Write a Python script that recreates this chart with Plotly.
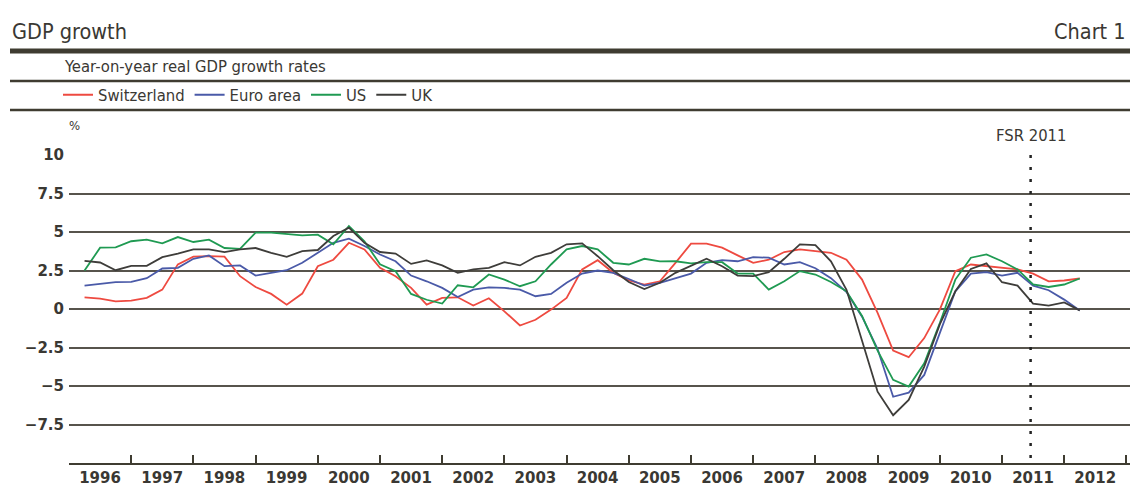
import plotly.graph_objects as go
import pandas as pd

# ---------------- data ----------------
quarters = pd.period_range("1996Q1", "2012Q1", freq="Q")

switzerland = [0.76, 0.67, 0.50, 0.54, 0.72, 1.26, 2.90, 3.40, 3.43, 3.40, 2.13, 1.43, 0.98, 0.28, 1.00, 2.78, 3.20, 4.30,
               3.87, 2.67, 2.13, 1.37, 0.28, 0.72, 0.76, 0.22, 0.70, -0.15, -1.07, -0.70, -0.04, 0.72, 2.57, 3.17, 2.35, 1.85,
               1.59, 1.80, 3.00, 4.24, 4.24, 3.98, 3.48, 3.00, 3.20, 3.70, 3.87, 3.76, 3.65, 3.20, 1.91, -0.25, -2.70, -3.13,
               -1.89, -0.04, 2.46, 2.89, 2.78, 2.67, 2.57, 2.30, 1.80, 1.85, 1.98]
euro_area = [1.52, 1.63, 1.74, 1.76, 2.00, 2.63, 2.67, 3.26, 3.48, 2.78, 2.83, 2.17, 2.35, 2.52, 3.00, 3.65, 4.30, 4.57,
             4.09, 3.54, 3.10, 2.17, 1.80, 1.37, 0.78, 1.26, 1.41, 1.37, 1.26, 0.83, 0.98, 1.70, 2.30, 2.50, 2.35, 1.95,
             1.52, 1.70, 2.02, 2.30, 3.00, 3.17, 3.10, 3.37, 3.33, 2.89, 3.04, 2.65, 2.00, 1.10, -0.50, -2.60, -5.70, -5.43,
             -4.28, -1.57, 1.15, 2.30, 2.39, 2.17, 2.35, 1.52, 1.22, 0.61, -0.09]
us = [2.50, 3.98, 4.00, 4.40, 4.50, 4.26, 4.67, 4.35, 4.50, 3.96, 3.90, 4.96, 4.96, 4.85, 4.78, 4.83, 4.20, 5.39,
      4.40, 2.90, 2.46, 0.98, 0.60, 0.35, 1.54, 1.41, 2.24, 1.91, 1.48, 1.80, 2.89, 3.87, 4.09, 3.87, 3.00, 2.89,
      3.26, 3.09, 3.10, 2.96, 3.04, 3.04, 2.30, 2.30, 1.26, 1.80, 2.46, 2.24, 1.75, 1.15, -0.45, -2.70, -4.60, -5.04,
      -3.52, -0.91, 1.91, 3.33, 3.54, 3.10, 2.57, 1.59, 1.43, 1.59, 1.98]
uk = [3.13, 3.02, 2.52, 2.80, 2.80, 3.37, 3.59, 3.87, 3.87, 3.70, 3.87, 3.96, 3.65, 3.39, 3.76, 3.83, 4.74, 5.28,
      4.30, 3.70, 3.60, 2.93, 3.15, 2.83, 2.35, 2.57, 2.67, 3.04, 2.83, 3.39, 3.65, 4.20, 4.26, 3.43, 2.52, 1.75,
      1.30, 1.70, 2.35, 2.78, 3.26, 2.78, 2.17, 2.13, 2.39, 3.26, 4.20, 4.15, 3.10, 1.25, -2.10, -5.37, -6.90, -5.90,
      -3.74, -1.00, 1.15, 2.60, 2.96, 1.74, 1.52, 0.35, 0.22, 0.43, -0.09]

series_names = ["Switzerland", "Euro area", "US", "UK"]
series_values = [switzerland, euro_area, us, uk]
series_colors = ["#ee4a40", "#4a5aa8", "#1f9a52", "#3e3d3a"]

year_ticks = list(range(1996, 2014))
year_labels = [str(y) for y in range(1996, 2013)] + [""]
y_ticks = [-7.5, -5, -2.5, 0, 2.5, 5, 7.5, 10]
y_labels = ["\u22127.5", "\u22125", "\u22122.5", "0", "2.5", "5", "7.5", "10"]
fsr_date = 2011.46

# quarter-end position on a numeric year axis
x_pos = [p.year + p.quarter * 0.25 for p in quarters]

# ---------------- layout geometry ----------------
W, H = 1130, 486
L, R, T, B = 69, 0, 155, 23
PW, PH = W - L - R, H - T - B

def px_x(px):
    return (px - L) / PW

def px_y(py):
    return (H - B - py) / PH

TXT = "#3a3833"
RULE = "#3f3c31"
GRID = "#57544c"
NARROW = "DejaVu Sans Condensed, sans-serif"
BOLD = "DejaVu Sans, sans-serif"

fig = go.Figure()
for name, vals, col in zip(series_names, series_values, series_colors):
    fig.add_trace(go.Scatter(x=x_pos, y=vals, name=name, mode="lines",
                             line=dict(color=col, width=1.8)))

fig.update_layout(
    width=W, height=H,
    margin=dict(l=L, r=R, t=T, b=B, autoexpand=False),
    paper_bgcolor="white", plot_bgcolor="white",
    showlegend=True,
    legend=dict(orientation="h", xref="container", yref="container",
                x=58 / W, xanchor="left", y=1 - 95 / H, yanchor="middle",
                font=dict(family=NARROW, size=16.5, color=TXT),
                bgcolor="rgba(0,0,0,0)", borderwidth=0, itemwidth=30),
    xaxis=dict(range=[1996, 1996 + PW / 62.2], tickvals=year_ticks, ticktext=year_labels,
               ticks="inside", ticklen=8, tickwidth=2, tickcolor=RULE,
               ticklabelshift=31, ticklabelstandoff=0,
               showline=True, linecolor=RULE, linewidth=2,
               showgrid=False, zeroline=False,
               tickfont=dict(family=BOLD, size=15, color=TXT, weight="bold")),
    yaxis=dict(range=[-10, 10], tickvals=y_ticks, ticktext=y_labels,
               showgrid=True, gridcolor=GRID, gridwidth=2,
               zeroline=False, showline=False, ticks="", ticklabelstandoff=4,
               tickfont=dict(family=BOLD, size=15, color=TXT, weight="bold")),
)

# header rules
for py, w in [(51, 5), (81, 2.5), (110, 2.5)]:
    fig.add_shape(type="line", xref="paper", yref="paper",
                  x0=px_x(10), x1=px_x(W), y0=px_y(py), y1=px_y(py),
                  line=dict(color=RULE, width=w))

# FSR 2011 marker
fig.add_shape(type="line", xref="x", yref="y", x0=fsr_date, x1=fsr_date, y0=10, y1=-10,
              line=dict(color="#222222", width=2.5, dash="3px,9px"))

fig.add_annotation(text="GDP growth", xref="paper", yref="paper", x=px_x(10), y=px_y(31),
                   xanchor="left", yanchor="middle", showarrow=False,
                   font=dict(family=NARROW, size=21.5, color=TXT))
fig.add_annotation(text="Chart 1", xref="paper", yref="paper", x=px_x(1128), y=px_y(31),
                   xanchor="right", yanchor="middle", showarrow=False,
                   font=dict(family=NARROW, size=21.5, color=TXT))
fig.add_annotation(text="Year-on-year real GDP growth rates", xref="paper", yref="paper",
                   x=px_x(62), y=px_y(67), xanchor="left", yanchor="middle", showarrow=False,
                   font=dict(family=NARROW, size=16.5, color=TXT))
fig.add_annotation(text="%", xref="paper", yref="paper", x=px_x(67), y=px_y(125),
                   xanchor="left", yanchor="middle", showarrow=False,
                   font=dict(family=NARROW, size=13, color=TXT))
fig.add_annotation(text="FSR 2011", xref="x", yref="paper", x=fsr_date, y=px_y(136),
                   xanchor="center", yanchor="middle", showarrow=False,
                   font=dict(family=NARROW, size=16.5, color=TXT))

fig.write_html("out.html", config={"displayModeBar": False},
               post_script="document.body.style.margin='0';document.body.style.padding='0';")
